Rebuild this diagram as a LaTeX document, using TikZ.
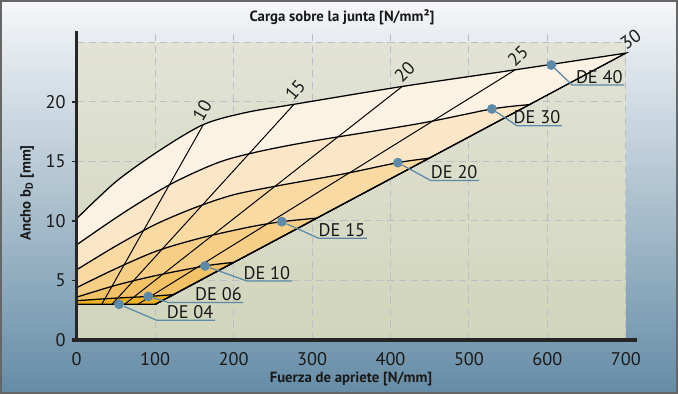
\documentclass[tikz,border=0pt]{standalone}
\usepackage{fontspec}
\setmainfont{PT Sans}
\usepackage{tikz}
\usetikzlibrary{arrows}

\definecolor{bgtop}{RGB}{246,247,249}
\definecolor{bgbot}{RGB}{101,140,166}
\definecolor{plottop}{RGB}{226,227,214}
\definecolor{plotbot}{RGB}{209,213,187}
\definecolor{gridgray}{RGB}{186,190,197}
\definecolor{steel}{RGB}{92,138,168}
\definecolor{de40}{RGB}{252,242,228}
\definecolor{de30}{RGB}{251,231,200}
\definecolor{de20}{RGB}{248,218,162}
\definecolor{de15}{RGB}{246,206,134}
\definecolor{de10}{RGB}{243,194,102}
\definecolor{de06}{RGB}{237,179,37}

\begin{document}
\begin{tikzpicture}[x=0.025cm,y=0.025cm]
  \tikzstyle{every node} = [inner sep=1pt, font=\fontsize{13}{15}\selectfont, text=black!90]
  \tikzstyle{axistitle} = [font=\fontsize{10.5}{12}\selectfont\bfseries]
  \tikzstyle{gridline} = [gridgray, line width=0.7pt, dash pattern=on 5pt off 3.5pt]
  \tikzstyle{axisline} = [black!85, line width=2.2pt]
  \tikzstyle{band} = [draw=black, line width=0.9pt]
  \tikzstyle{loadline} = [black, line width=0.7pt]
  \tikzstyle{leaderline} = [steel, line width=0.9pt]
  \tikzstyle{dedot} = [circle, fill=steel, inner sep=0pt, minimum size=7pt]

  \useasboundingbox (0,0) rectangle (678,394);
  \shade[top color=bgtop, bottom color=bgbot] (0,0) rectangle (678,394);
  \draw[black!60, line width=1.4pt] (1,1) rectangle (677,393);

  \node[axistitle] (title) at (342,377) {Carga sobre la junta [N/mm²]};
  \node[axistitle] (xlabel) at (351,15) {Fuerza de apriete [N/mm]};
  \node[axistitle, rotate=90] (ylabel) at (27,201) {Ancho b\textsubscript{D} [mm]};

  \begin{scope}[shift={(76.7,54)}, x=0.0196cm, y=0.2975cm]
    \shade[top color=plottop, bottom color=plotbot] (0,0) rectangle (700,25);
    \foreach \x in {100,200,...,700}
      \draw[gridline] (\x,0) -- (\x,26);
    \foreach \y in {5,10,...,25}
      \draw[gridline] (0,\y) -- (700,\y);

    % bands, lightest first
    \filldraw[band, fill=de40] plot[smooth] coordinates {(0,10.2) (50,13.3) (105,15.9) (161.5,18.1) (215,19.1) (277,19.8) (415,21.3) (559,22.7) (700,24.1)} -- (100,3) -- (0,3) -- cycle;
    \filldraw[band, fill=de30] plot[smooth] coordinates {(0,8.0) (60,10.7) (120,13.1) (180,14.9) (230,15.8) (300,16.7) (438,18.2) (529.3,19.41) (577,19.77)} -- (100,3) -- (0,3) -- cycle;
    \filldraw[band, fill=de20] plot[smooth] coordinates {(0,5.9) (50,7.9) (100,9.7) (150,11.1) (200,12.2) (260,13.0) (340,13.95) (409.4,14.9) (449,15.27)} -- (100,3) -- (0,3) -- cycle;
    \filldraw[band, fill=de15] plot[smooth] coordinates {(0,4.4) (50,6.0) (103,7.5) (160,8.6) (221,9.5) (261.5,9.94) (306,10.24)} -- (100,3) -- (0,3) -- cycle;
    \filldraw[band, fill=de10] plot[smooth] coordinates {(0,3.6) (50,4.6) (100,5.4) (163.6,6.22) (200,6.52)} -- (100,3) -- (0,3) -- cycle;
    \filldraw[band, fill=de06] plot[smooth] coordinates {(0,3.3) (45,3.5) (91.3,3.66) (123,3.81)} -- (100,3) -- (0,3) -- cycle;

    % load lines
    \foreach \s/\fa/\fb/\bt/\ang in {10/32/161.5/18.1/60, 15/45/277/19.8/50, 20/61/415/21.3/45, 25/78/559/22.7/44, 30/100/700/24.1/35}{
      \coordinate (b\s) at (\fa,3);
      \coordinate (t\s) at (\fb,\bt);
      \draw[loadline] (b\s) -- (t\s);
      \node[rotate=\ang, anchor=south west] (l\s) at (t\s) {\s};
    }

    % axes
    \draw[axisline] (0,0) -- (0,26);
    \draw[axisline] (-6,0) -- (714,0);
    \foreach \y in {0,5,...,20}{
      \draw[black!85, line width=1pt] (-6,\y) -- (0,\y);
      \node[anchor=east] (y\y) at (-12,\y) {\y};
    }
    \foreach \x in {0,100,...,700}
      \node (x\x) at (\x,-1.6) {\x};

    % product labels
    \foreach \n/\dx/\dy/\kx/\ky/\ex in {40/605/23.1/631.4/21.43/698, 30/529.3/19.41/561.2/18.0/618.6, 20/409.4/14.9/451.5/13.39/513, 15/261.5/9.94/308.2/8.55/369.9, 10/163.6/6.22/216.8/4.96/274.2, 06/91.3/3.66/117/3.15/212.5, 04/54/3.0/102/1.66/176.4}{
      \node[dedot] (d\n) at (\dx,\dy) {};
      \coordinate (k\n) at (\kx,\ky);
      \coordinate (e\n) at (\ex,\ky);
      \draw[leaderline] (d\n) -- (k\n) -- (e\n);
      \node[anchor=south east] (n\n) at (e\n) {DE \n};
    }
  \end{scope}
\end{tikzpicture}
\end{document}
